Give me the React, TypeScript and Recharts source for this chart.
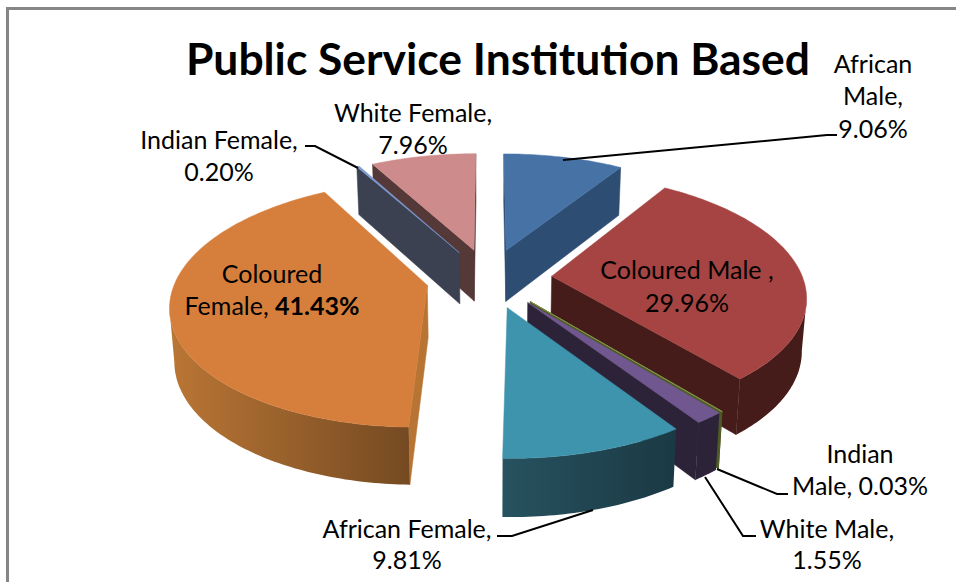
import { Pie, PieChart } from "recharts";

// drawn clockwise; White Female goes first so the slices paint back to front
const CATEGORIES = [
  "White Female",
  "African Male",
  "Coloured Male",
  "Indian Male",
  "White Male",
  "African Female",
  "Coloured Female",
  "Indian Female",
];
const SHARES = [7.96, 9.06, 29.96, 0.03, 1.55, 9.81, 41.43, 0.2];

const data = CATEGORIES.map((name, i) => ({ name, value: SHARES[i] }));

const TITLE = "Public Service Institution Based";

const COLOURS: Record<string, { top: string; side: string; rim: [string, string] }> = {
  "White Female": { top: "#cd8c8b", side: "#553838", rim: ["#5e3d3d", "#5e3d3d"] },
  "African Male": { top: "#4672a6", side: "#2e4d73", rim: ["#2e4d73", "#2e4d73"] },
  "Coloured Male": { top: "#a54442", side: "#451c19", rim: ["#451c19", "#451c19"] },
  "Indian Male": { top: "#7f8f45", side: "#4d5a24", rim: ["#4d5a24", "#4d5a24"] },
  "White Male": { top: "#70578f", side: "#2d2339", rim: ["#2d2339", "#2d2339"] },
  "African Female": { top: "#3f94ad", side: "#1b3a45", rim: ["#27525f", "#1a3944"] },
  "Coloured Female": { top: "#d67f3c", side: "#b87433", rim: ["#ba7635", "#754a22"] },
  "Indian Female": { top: "#7c9bd2", side: "#3b4151", rim: ["#3b4151", "#3b4151"] },
};

// {v} is replaced by the formatted share
const LABELS: Record<
  string,
  { x: number; lines: [number, string][]; leader?: [number, number][]; strong?: boolean }
> = {
  "African Male": {
    x: 873,
    lines: [[73, "African"], [105, "Male,"], [138, "{v}"]],
    leader: [[563, 160], [827, 135], [837, 135]],
  },
  "White Female": { x: 413, lines: [[122, "White Female,"], [154, "{v}"]] },
  "Indian Female": {
    x: 219,
    lines: [[149, "Indian Female,"], [181, "{v}"]],
    leader: [[305, 146], [315, 146], [358, 168]],
  },
  "Coloured Female": {
    x: 272,
    lines: [[283, "Coloured"], [315, "Female, {v}"]],
    strong: true,
  },
  "Coloured Male": { x: 687, lines: [[279, "Coloured Male ,"], [312, "{v}"]] },
  "Indian Male": {
    x: 860,
    lines: [[463, "Indian"], [495, "Male, {v}"]],
    leader: [[717, 469], [777, 494], [788, 494]],
  },
  "White Male": {
    x: 827,
    lines: [[538, "White Male,"], [569, "{v}"]],
    leader: [[705, 477], [743, 536], [756, 536]],
  },
  "African Female": {
    x: 407,
    lines: [[538, "African Female,"], [569, "{v}"]],
    leader: [[497, 536], [512, 536], [593, 510]],
  },
};

const FONT = "Lato, sans-serif";
const EXPLODE = 63;
const TILT = 0.472;
const VIEW_DIST = 1687;
const RAD = Math.PI / 180;

type Pt = [number, number];
const toPath = (pts: Pt[]) =>
  "M" + pts.map((p) => `${p[0].toFixed(1)},${p[1].toFixed(1)}`).join("L") + "Z";

function Slice3D(props: any) {
  const { cx, cy, outerRadius, startAngle, endAngle, name } = props;
  const c = COLOURS[name] ?? COLOURS[props.payload?.name];
  const key = (name ?? props.payload?.name).replace(/ /g, "");
  const mid = ((startAngle + endAngle) / 2) * RAD;
  const offX = EXPLODE * Math.cos(mid);
  const offY = -EXPLODE * Math.sin(mid);

  // ground position on the tilted plane, with Y running toward the viewer
  const top = (gx: number, gy: number): Pt => {
    const w = 1 / (1 - gy / VIEW_DIST);
    return [cx + gx * w, cy + TILT * gy * w];
  };
  const low = (gx: number, gy: number): Pt => {
    const w = 1 / (1 - gy / VIEW_DIST);
    return [cx + gx * w * 0.985, cy + TILT * gy * w + 22 + 30 * w];
  };

  const steps = Math.max(1, Math.ceil(Math.abs(startAngle - endAngle)));
  const ground: Pt[] = [];
  for (let i = 0; i <= steps; i++) {
    const a = (startAngle + ((endAngle - startAngle) * i) / steps) * RAD;
    ground.push([offX + outerRadius * Math.cos(a), offY - outerRadius * Math.sin(a)]);
  }
  const apex: Pt = [offX, offY];
  const arcTop = ground.map((g) => top(g[0], g[1]));
  const arcLow = ground.map((g) => low(g[0], g[1]));
  const apexTop = top(apex[0], apex[1]);
  const apexLow = low(apex[0], apex[1]);

  // a side wall faces the viewer when its top edge runs leftwards on screen
  const walls: Pt[][] = [];
  const first = arcTop[0];
  const last = arcTop[arcTop.length - 1];
  if (first[0] < apexTop[0]) walls.push([apexTop, first, arcLow[0], apexLow]);
  if (apexTop[0] < last[0]) walls.push([last, apexTop, apexLow, arcLow[arcLow.length - 1]]);

  const rimIdx: number[] = [];
  for (let i = 0; i < steps; i++) {
    if (arcTop[i + 1][0] < arcTop[i][0]) {
      if (!rimIdx.length || rimIdx[rimIdx.length - 1] !== i) rimIdx.push(i);
      rimIdx.push(i + 1);
    }
  }
  const rim: Pt[] = [
    ...rimIdx.map((i) => arcTop[i]),
    ...rimIdx.slice().reverse().map((i) => arcLow[i]),
  ];
  const rimXs = rim.map((p) => p[0]);
  const edge = c.top === COLOURS["Indian Male"].top ? 1 : 0.5;

  return (
    <g>
      {rim.length > 0 && (
        <defs>
          <linearGradient
            id={`rim-${key}`}
            gradientUnits="userSpaceOnUse"
            x1={Math.min(...rimXs)}
            x2={Math.max(...rimXs)}
            y1={0}
            y2={0}
          >
            <stop offset="0" stopColor={c.rim[0]} />
            <stop offset="1" stopColor={c.rim[1]} />
          </linearGradient>
        </defs>
      )}
      {walls.map((w, i) => (
        <path key={i} d={toPath(w)} fill={c.side} stroke={c.side} strokeWidth={edge} />
      ))}
      {rim.length > 0 && <path d={toPath(rim)} fill={`url(#rim-${key})`} />}
      <path
        d={toPath([apexTop, ...arcTop])}
        fill={c.top}
        stroke={c.top}
        strokeWidth={edge}
        strokeLinejoin="round"
      />
    </g>
  );
}

function SliceLabel(props: any) {
  const name = props.name ?? props.payload?.name;
  const layout = LABELS[name];
  const pct = `${Number(props.value).toFixed(2)}%`;
  return (
    <g>
      {layout.leader && (
        <polyline
          points={layout.leader.map((p) => p.join(",")).join(" ")}
          fill="none"
          stroke="#000"
          strokeWidth={2}
        />
      )}
      {layout.lines.map(([y, line]) => {
        const [before, after] = line.split("{v}");
        return (
          <text
            key={y}
            x={layout.x}
            y={y}
            textAnchor="middle"
            fontFamily={FONT}
            fontSize={25}
            fill="#000"
          >
            {after === undefined ? (
              line
            ) : (
              <>
                {before}
                <tspan fontWeight={layout.strong ? 700 : 400}>{pct}</tspan>
              </>
            )}
          </text>
        );
      })}
    </g>
  );
}

export default function App() {
  const start = 90 + 3.6 * SHARES[0];
  return (
    <div style={{ position: "absolute", left: 0, top: 0, width: 956, height: 582, background: "#fff" }}>
      <div
        style={{
          position: "absolute",
          left: 6,
          top: 7,
          right: 0,
          bottom: 0,
          borderLeft: "3px solid #868686",
          borderTop: "3px solid #868686",
        }}
      />
      <div style={{ position: "absolute", left: 0, top: 0 }}>
        <PieChart width={956} height={582} margin={{ top: 0, right: 0, bottom: 0, left: 0 }}>
          <text
            x={498}
            y={75}
            textAnchor="middle"
            fontFamily={FONT}
            fontSize={44.4}
            fontWeight={700}
            fill="#000"
          >
            {TITLE}
          </text>
          <Pie
            data={data}
            dataKey="value"
            nameKey="name"
            cx={489}
            cy={278}
            innerRadius={0}
            outerRadius={251}
            startAngle={start}
            endAngle={start - 360}
            stroke="none"
            shape={Slice3D}
            label={SliceLabel}
            labelLine={false}
            isAnimationActive={false}
          />
        </PieChart>
      </div>
    </div>
  );
}
